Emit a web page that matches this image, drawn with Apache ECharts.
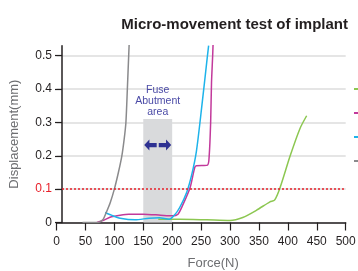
<!DOCTYPE html>
<html>
<head>
<meta charset="utf-8">
<script src="https://cdn.jsdelivr.net/npm/echarts@6/dist/echarts.min.js"></script>
<style>
    html, body { margin: 0; padding: 0; background: #fff; }
    #chart { width: 358px; height: 271px; }
</style>
</head>
<body>
<div id="chart"></div>
<script>
// force (N) vs displacement (mm)
var grayCurve = [[45, 0], [72, 0], [80, 0.008], [86, 0.03], [93, 0.06], [100, 0.1], [107, 0.15],
    [113, 0.2], [117, 0.25], [120, 0.3], [122.5, 0.4], [124.8, 0.5], [126, 0.55]]
var cyanCurve = [[84, 0.03], [95, 0.022], [110, 0.013], [136, 0.008], [160, 0.013], [178, 0.014],
    [195, 0.01], [203, 0.02], [213, 0.045], [225, 0.09], [234, 0.145], [242, 0.215],
    [251, 0.345], [261, 0.5], [263, 0.53]]
var pinkCurve = [[70, 0], [80, 0.006], [95, 0.017], [110, 0.022], [125, 0.025], [150, 0.025],
    [180, 0.022], [200, 0.02], [210, 0.025], [219, 0.055], [231, 0.105], [239, 0.165],
    [242, 0.17], [261, 0.172], [264, 0.2], [266.5, 0.3], [268, 0.42], [270, 0.5], [271, 0.55]]
var greenCurve = [[176, 0.01], [213, 0.01], [260, 0.008], [300, 0.006], [322, 0.015], [346, 0.037],
    [369, 0.062], [377, 0.067], [386, 0.102], [404, 0.2], [421, 0.282], [432.5, 0.32]]
var seriesNames = ['Sample A', 'Sample B', 'Sample C', 'Sample D']
var yTicks = [0, 0.1, 0.2, 0.3, 0.4, 0.5]
var limitLine = 0.1
var fuseArea = [150, 200, 0.31]

var dark = '#231f20'
var font = 'Liberation Sans, Arial, sans-serif'

function curve (name, color, data, extra) {
    var s = {
        name: name,
        type: 'line',
        data: data,
        symbol: 'none',
        smooth: 0.25,
        lineStyle: { color: color, width: 1.5 },
        itemStyle: { color: color },
        z: 3
    }
    return Object.assign(s, extra || {})
}

var chart = echarts.init(document.getElementById('chart'))
chart.setOption({
    animation: false,
    title: {
        text: 'Micro-movement test of implant',
        right: 5,
        top: 12,
        textStyle: { color: dark, fontSize: 15, fontWeight: 'bold', fontFamily: font }
    },
    legend: {
        orient: 'vertical',
        left: 354,
        top: 83,
        icon: 'rect',
        itemWidth: 10,
        itemHeight: 2,
        itemGap: 12,
        padding: 0,
        textStyle: { color: dark, fontSize: 12, fontFamily: font },
        data: [seriesNames[0], seriesNames[1], seriesNames[2], seriesNames[3]]
    },
    grid: { left: 56.5, right: 12.3, top: 45.7, bottom: 48.5, outerBoundsMode: 'none' },
    xAxis: {
        type: 'value',
        min: 0,
        max: 500,
        interval: 50,
        name: 'Force(N)',
        nameLocation: 'middle',
        nameGap: 34,
        nameTextStyle: { color: '#6d6e71', fontSize: 13, fontFamily: font, padding: [0, 0, 0, 24] },
        axisLine: { lineStyle: { color: dark, width: 1.5 } },
        axisTick: { length: 8, lineStyle: { color: dark, width: 1.2 } },
        axisLabel: { color: dark, fontSize: 12, margin: 13, fontFamily: font },
        splitLine: { show: false }
    },
    yAxis: {
        type: 'value',
        min: 0,
        max: 0.53,
        offset: -5.5,
        name: 'Displacement(mm)',
        nameLocation: 'middle',
        nameGap: 41,
        nameTextStyle: { color: '#6d6e71', fontSize: 13, fontFamily: font },
        axisLine: { show: true, lineStyle: { color: dark, width: 1.5 } },
        axisTick: { show: true, length: 7, customValues: yTicks, lineStyle: { color: dark, width: 1.2 } },
        axisLabel: {
            customValues: yTicks,
            fontSize: 12,
            margin: 10,
            fontFamily: font,
            color: function (v) {
                return Math.abs(v - limitLine) < 1e-6 ? '#e8202a' : dark
            }
        },
        splitLine: { show: true, lineStyle: { color: '#dcdcdc', width: 1.5 } }
    },
    series: [
        curve(seriesNames[0], '#8cc751', greenCurve, {
            markLine: {
                silent: true,
                symbol: 'none',
                label: { show: false },
                lineStyle: { color: '#e8202a', type: [2, 2], width: 1.5 },
                data: [[{ coord: [9.5, limitLine] }, { coord: [497, limitLine] }]]
            }
        }),
        curve(seriesNames[1], '#c2399b', pinkCurve),
        curve(seriesNames[2], '#1db3ea', cyanCurve, {
            markArea: {
                silent: true,
                itemStyle: { color: '#d9dadc' },
                label: {
                    show: true,
                    position: 'top',
                    distance: 1,
                    color: '#4a4aa6',
                    fontSize: 10.5,
                    lineHeight: 11,
                    fontFamily: font,
                    align: 'center'
                },
                data: [[{ name: 'Fuse\nAbutment\narea', coord: [fuseArea[0], 0] },
                    { coord: [fuseArea[1], fuseArea[2]] }]]
            },
            markPoint: {
                silent: true,
                symbol: 'path://M0,5 L5,0 L5,3 L12,3 L12,7 L5,7 L5,10 Z M14,3 L21,3 L21,0 L26,5 L21,10 L21,7 L14,7 Z',
                symbolSize: [27, 11],
                itemStyle: { color: '#2e3192' },
                label: { show: false },
                data: [{ coord: [(fuseArea[0] + fuseArea[1]) / 2, 0.232] }]
            }
        }),
        curve(seriesNames[3], '#8a8a8c', grayCurve)
    ]
})
</script>
</body>
</html>
